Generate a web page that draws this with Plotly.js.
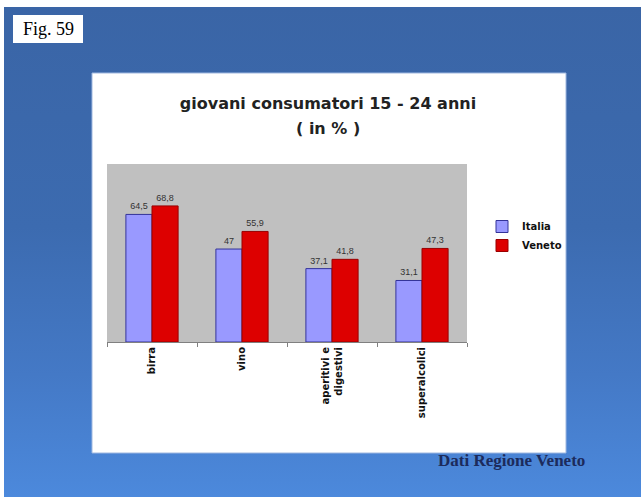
<!DOCTYPE html>
<html>
<head>
<meta charset="utf-8">
<script src="https://cdn.plot.ly/plotly-3.0.1.min.js"></script>
<style>
  html, body { margin: 0; padding: 0; background: #ffffff; }
  #bg { position: absolute; left: 4px; top: 7px; width: 637px; height: 490px;
        background: linear-gradient(to bottom, #3a65a6 0%, #3c6bb0 45%, #4479c6 75%, #4c89dc 100%); }
  #chart { position: absolute; left: 0; top: 0; width: 641px; height: 497px; }
</style>
</head>
<body>
<div id="bg"></div>
<div id="chart"></div>
<script>
const categories = ['birra', 'vino', 'aperitivi e<br>digestivi', 'superalcolici'];
const italiaValues = [64.5, 47, 37.1, 31.1];
const venetoValues = [68.8, 55.9, 41.8, 47.3];
const italiaLabels = ['64,5', '47', '37,1', '31,1'];
const venetoLabels = ['68,8', '55,9', '41,8', '47,3'];
const seriesNames = ['Italia', 'Veneto'];

const W = 641, H = 497;
const L = 107, R = 467, T = 164, B = 342;
const px = x => (x - L) / (R - L);
const py = y => (B - y) / (B - T);
const SANS = 'DejaVu Sans, Arial, sans-serif';

const traces = [
  {
    type: 'bar', name: seriesNames[0], x: categories, y: italiaValues,
    text: italiaLabels, textposition: 'outside', cliponaxis: false,
    textfont: { family: 'Liberation Sans, Arial, sans-serif', size: 9, color: '#333333' },
    marker: { color: '#9999ff', line: { color: '#333399', width: 1 } }
  },
  {
    type: 'bar', name: seriesNames[1], x: categories, y: venetoValues,
    text: venetoLabels, textposition: 'outside', cliponaxis: false,
    textfont: { family: 'Liberation Sans, Arial, sans-serif', size: 9, color: '#333333' },
    marker: { color: '#dd0000', line: { color: '#990000', width: 1 } }
  }
];

const layout = {
  width: W, height: H,
  margin: { l: L, r: W - R, t: T, b: H - B, pad: 0 },
  paper_bgcolor: 'rgba(0,0,0,0)',
  plot_bgcolor: 'rgba(0,0,0,0)',
  barmode: 'group', bargap: 0.42, bargroupgap: 0,
  showlegend: true,
  title: {
    text: 'giovani consumatori 15 - 24 anni',
    font: { family: SANS, size: 16, color: '#222222', weight: 'bold' },
    x: 328 / W, xanchor: 'center', y: 1 - 103 / H, yanchor: 'middle'
  },
  legend: {
    x: px(482), y: py(212), xanchor: 'left', yanchor: 'top',
    bgcolor: 'rgba(0,0,0,0)', tracegroupgap: 4,
    font: { family: SANS, size: 10, color: '#111111', weight: 'bold' },
    itemwidth: 30
  },
  xaxis: {
    type: 'category', showgrid: false, showline: true, linecolor: '#808080', linewidth: 1,
    ticks: 'outside', tickson: 'boundaries', ticklen: 4, tickcolor: '#808080',
    tickangle: -90, automargin: false,
    tickfont: { family: SANS, size: 10, color: '#111111', weight: 'bold' }
  },
  yaxis: { range: [0, 90], visible: false, showgrid: false, zeroline: false },
  shapes: [
    { type: 'rect', xref: 'paper', yref: 'paper', layer: 'below',
      x0: px(92), x1: px(566), y0: py(453), y1: py(73),
      fillcolor: '#ffffff', line: { color: '#9fb8e0', width: 1 } },
    { type: 'rect', xref: 'paper', yref: 'paper', layer: 'below',
      x0: 0, x1: 1, y0: 0, y1: 1,
      fillcolor: '#c0c0c0', line: { width: 0 } },
    { type: 'rect', xref: 'paper', yref: 'paper', layer: 'below',
      x0: px(13), x1: px(83), y0: py(43), y1: py(15),
      fillcolor: '#ffffff', line: { width: 0 } }
  ],
  annotations: [
    { xref: 'paper', yref: 'paper', x: px(328), y: py(128), xanchor: 'center', yanchor: 'middle',
      text: '( in % )', showarrow: false,
      font: { family: SANS, size: 16, color: '#222222', weight: 'bold' } },
    { xref: 'paper', yref: 'paper', x: px(48), y: py(29), xanchor: 'center', yanchor: 'middle',
      text: 'Fig. 59', showarrow: false,
      font: { family: 'Liberation Serif, Times New Roman, serif', size: 18, color: '#000000' } },
    { xref: 'paper', yref: 'paper', x: px(511), y: py(460), xanchor: 'center', yanchor: 'middle',
      text: 'Dati Regione Veneto', showarrow: false,
      font: { family: 'Liberation Serif, Times New Roman, serif', size: 17, color: '#1c2b5c', weight: 'bold' } }
  ]
};

Plotly.newPlot('chart', traces, layout, { displayModeBar: false, staticPlot: true });
</script>
</body>
</html>
